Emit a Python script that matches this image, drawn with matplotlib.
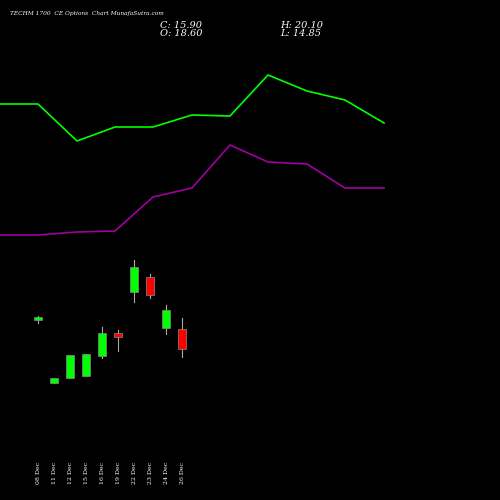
import matplotlib
matplotlib.use("Agg")
import matplotlib.pyplot as plt

dates = ["08 Dec","11 Dec","12 Dec","15 Dec","16 Dec","19 Dec","22 Dec","23 Dec","24 Dec","26 Dec"]
# pixel estimates converted to price
def p(y): return round(18.60 - (y - 329) * 0.135, 2)
opens  = [p(320), p(383), p(378), p(376), p(356), p(333), p(292), p(277), p(328), 18.60]
closes = [p(317), p(378), p(355), p(354), p(333), p(337), p(267), p(295), p(310), 15.90]
highs  = [p(316), p(378), p(355), p(354), p(327), p(330), p(260), p(274), p(305), 20.10]
lows   = [p(323), p(383), p(378), p(376), p(358), p(351), p(302), p(298), p(334), 14.85]
line_x = [0, 38, 77, 115, 153, 192, 230, 268, 307, 345, 384]
green_line = [104, 104, 141, 127, 127, 115, 116, 75, 91, 100, 123]
purple_line = [235, 235, 232, 231, 197, 188, 145, 162, 164, 188, 188]

fig = plt.figure(figsize=(5, 5), dpi=100, facecolor="black")
ax = fig.add_axes([0, 0, 1, 1], facecolor="black")
ax.set_xlim(0, 500); ax.set_ylim(500, 0); ax.axis("off")
ax.plot(line_x, green_line, color="#00ff00", lw=1.2)
ax.plot(line_x, purple_line, color="#a000a0", lw=1.2)

ax2 = fig.add_axes([0, 0, 1, 1], facecolor="none")
ax2.set_xlim(-38/16, 462/16); ax2.set_ylim(p(500), p(0)); ax2.axis("off")
for i in range(len(dates)):
    up = closes[i] >= opens[i]
    c = "#00ff00" if up else "#ff0000"
    ax2.plot([i, i], [lows[i], highs[i]], color="#aaaaaa", lw=0.8, zorder=1)
    lo, hi = min(opens[i], closes[i]), max(opens[i], closes[i])
    ax2.bar(i, max(hi - lo, 0.15), bottom=lo, width=0.56, color=c, edgecolor="#888888", lw=0.5, zorder=2)
    ax2.text(i, p(484), dates[i], rotation=90, color="white", fontsize=4.5, ha="center", va="bottom", family="DejaVu Serif")

fig.text(0.02, 0.972, "TECHM 1700  CE Options  Chart MunafaSutra.com", color="white", fontsize=4.2,
         family="DejaVu Serif", style="italic", va="center")
fig.text(0.32, 0.95, "C: 15.90", color="white", fontsize=7, family="DejaVu Serif", style="italic", va="center")
fig.text(0.32, 0.934, "O: 18.60", color="white", fontsize=7, family="DejaVu Serif", style="italic", va="center")
fig.text(0.56, 0.95, "H: 20.10", color="white", fontsize=7, family="DejaVu Serif", style="italic", va="center")
fig.text(0.56, 0.934, "L: 14.85", color="white", fontsize=7, family="DejaVu Serif", style="italic", va="center")
fig.savefig("out.png", dpi=100, facecolor="black")
